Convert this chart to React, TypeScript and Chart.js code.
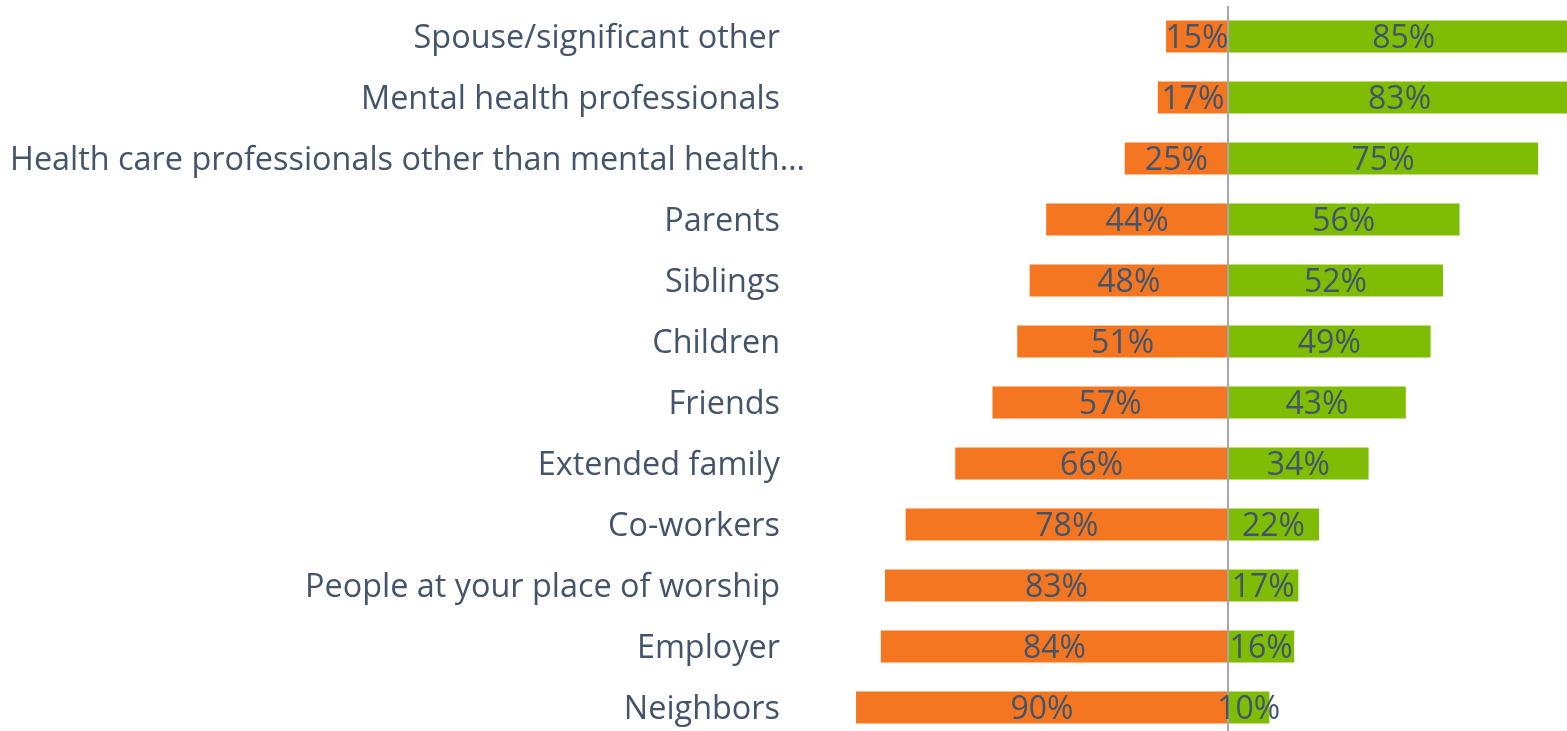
import React, { useEffect, useRef } from "react";
import { Chart, registerables } from "chart.js";

Chart.register(...registerables);

const categories = [
  "Spouse/significant other",
  "Mental health professionals",
  "Health care professionals other than mental health…",
  "Parents",
  "Siblings",
  "Children",
  "Friends",
  "Extended family",
  "Co-workers",
  "People at your place of worship",
  "Employer",
  "Neighbors",
];
const orangeValues = [15, 17, 25, 44, 48, 51, 57, 66, 78, 83, 84, 90];
const greenValues = [85, 83, 75, 56, 52, 49, 43, 34, 22, 17, 16, 10];

const ORANGE = "#F47621";
const GREEN = "#7FBD04";
const TEXT = "#44546A";
const LABEL_RIGHT = 780;

const overlayPlugin = {
  id: "overlay",
  afterDatasetsDraw(chart: any) {
    const ctx = chart.ctx;
    const x0 = chart.scales.x.getPixelForValue(0);
    ctx.save();
    ctx.strokeStyle = "#A6A6A6";
    ctx.lineWidth = 2;
    ctx.beginPath();
    ctx.moveTo(x0, 6);
    ctx.lineTo(x0, chart.height);
    ctx.stroke();

    // category labels
    ctx.fillStyle = TEXT;
    ctx.textBaseline = "middle";
    ctx.font = "32.4px 'Open Sans'";
    const yScale = chart.scales.y;
    categories.forEach((c, i) => {
      const y = yScale.getPixelForValue(i) + 2;
      const w = ctx.measureText(c).width;
      if (w > LABEL_RIGHT - 10) {
        ctx.textAlign = "left";
        ctx.fillText(c, 10, y);
      } else {
        ctx.textAlign = "right";
        ctx.fillText(c, LABEL_RIGHT, y);
      }
    });

    // value labels
    ctx.font = "32px 'Open Sans'";
    ctx.textAlign = "center";
    chart.data.datasets.forEach((ds: any, di: number) => {
      const meta = chart.getDatasetMeta(di);
      meta.data.forEach((bar: any, i: number) => {
        const p = bar.getProps(["x", "y", "base"], true);
        const cx = (p.x + p.base) / 2;
        ctx.fillText(Math.abs(ds.data[i]) + "%", cx, p.y + 2);
      });
    });
    ctx.restore();
  },
};

export default function App() {
  const ref = useRef<HTMLCanvasElement>(null);
  useEffect(() => {
    const chart = new Chart(ref.current!, {
      type: "bar",
      data: {
        labels: categories,
        datasets: [
          {
            label: "No",
            data: orangeValues.map((v) => -v),
            backgroundColor: ORANGE,
            barPercentage: 0.525,
            categoryPercentage: 1,
          },
          {
            label: "Yes",
            data: greenValues,
            backgroundColor: GREEN,
            barPercentage: 0.525,
            categoryPercentage: 1,
          },
        ],
      },
      options: {
        indexAxis: "y",
        responsive: false,
        animation: false,
        layout: { padding: { top: 6, right: 0, bottom: 0, left: 814.7 } },
        plugins: {
          legend: { display: false },
          tooltip: { enabled: false },
        },
        scales: {
          x: {
            display: false,
            stacked: true,
            min: -100,
            max: 82,
          },
          y: {
            display: false,
            stacked: true,
          },
        },
      },
      plugins: [overlayPlugin],
    });
    return () => chart.destroy();
  }, []);

  return (
    <div
      style={{
        position: "fixed",
        left: 0,
        top: 0,
        width: 1567,
        height: 731,
        overflow: "hidden",
        background: "#fff",
      }}
    >
      <canvas ref={ref} width={1567} height={738} />
    </div>
  );
}
